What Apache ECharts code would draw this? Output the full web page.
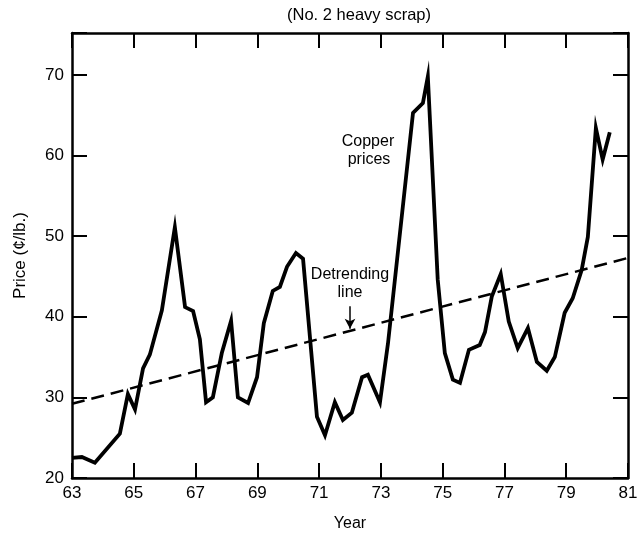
<!DOCTYPE html>
<html>
<head>
<meta charset="utf-8">
<script src="https://cdn.jsdelivr.net/npm/echarts@6/dist/echarts.min.js"></script>
<style>html,body{margin:0;padding:0;background:#fff}#c{width:641px;height:537px}</style>
</head>
<body>
<div id="c"></div>
<script>
// Copper prices (No. 2 heavy scrap), cents per lb
var years = [63.00, 63.32, 63.74, 64.55, 64.81, 65.04, 65.30, 65.52, 65.91, 66.33,
             66.66, 66.92, 67.14, 67.34, 67.56, 67.85, 68.15, 68.37, 68.70, 68.99,
             69.21, 69.50, 69.73, 69.96, 70.25, 70.48, 70.93, 71.19, 71.51, 71.77,
             72.06, 72.39, 72.58, 72.97, 73.23, 74.04, 74.36, 74.52, 74.84, 75.07,
             75.33, 75.56, 75.85, 76.20, 76.37, 76.59, 76.88, 77.14, 77.43, 77.76,
             78.05, 78.37, 78.63, 78.95, 79.21, 79.50, 79.70, 79.96, 80.18, 80.41];
var prices = [22.5, 22.6, 21.9, 25.5, 30.4, 28.5, 33.6, 35.3, 40.8, 51.1,
              41.2, 40.7, 37.2, 29.4, 30.0, 35.5, 39.5, 30.0, 29.3, 32.5,
              39.2, 43.2, 43.7, 46.2, 47.9, 47.2, 27.6, 25.3, 29.4, 27.2,
              28.1, 32.5, 32.8, 29.4, 36.7, 65.3, 66.5, 69.8, 44.6, 35.5,
              32.2, 31.8, 35.9, 36.5, 38.1, 42.5, 45.3, 39.4, 36.1, 38.6,
              34.4, 33.3, 35.0, 40.5, 42.3, 45.8, 49.9, 63.4, 59.5, 62.9];
// Detrending line end points
var trendYears = [63, 81];
var trendValues = [29.2, 47.3];
// Axis ranges
var xMin = 63, xMax = 81, xStep = 2;
var yMin = 20, yMax = 75.2, yStep = 10;

var copperData = years.map(function (y, i) { return [y, prices[i]]; });
var trendData = trendYears.map(function (y, i) { return [y, trendValues[i]]; });
var arrowYear = 72.0;
var arrowTop = 41.3;
var arrowBottom = 38.5;

var FONT = 'Liberation Sans, Arial, Helvetica, sans-serif';
var axisLine = { show: true, lineStyle: { color: '#000', width: 2.5 } };
var tick = { show: true, inside: true, length: 15, lineStyle: { color: '#000', width: 2 } };

var chart = echarts.init(document.getElementById('c'), null, { renderer: 'canvas' });
chart.setOption({
  animation: false,
  backgroundColor: '#fff',
  grid: { left: 72, right: 13, top: 33, bottom: 59, containLabel: false },
  xAxis: [{
    type: 'value', min: xMin, max: xMax, interval: xStep, position: 'bottom',
    name: 'Year', nameLocation: 'middle', nameGap: 38,
    nameTextStyle: { fontFamily: FONT, fontSize: 16, color: '#000' },
    axisLine: axisLine, axisTick: tick, splitLine: { show: false },
    axisLabel: { color: '#000', fontFamily: FONT, fontSize: 17, margin: 7 }
  }, {
    type: 'value', min: xMin, max: xMax, interval: xStep, position: 'top',
    axisLine: axisLine, axisTick: tick, splitLine: { show: false },
    axisLabel: { show: false }
  }],
  yAxis: [{
    type: 'value', min: yMin, max: yMax, interval: yStep, position: 'left',
    name: 'Price (¢/lb.)', nameLocation: 'middle', nameGap: 43, nameRotate: 90,
    nameTextStyle: { fontFamily: FONT, fontSize: 17, color: '#000' },
    axisLine: axisLine, axisTick: tick, splitLine: { show: false },
    axisLabel: { color: '#000', fontFamily: FONT, fontSize: 17, margin: 8,
      formatter: function (v) { return (v % 10 === 0) ? String(v) : ''; } }
  }, {
    type: 'value', min: yMin, max: yMax, interval: yStep, position: 'right',
    axisLine: axisLine, axisTick: tick, splitLine: { show: false },
    axisLabel: { show: false }
  }],
  graphic: [
    { type: 'text', x: 359, y: 15, style: { text: '(No. 2 heavy scrap)', font: '16.5px ' + FONT, fill: '#000', align: 'center', verticalAlign: 'middle' } },
    { type: 'text', x: 368, y: 142, style: { text: 'Copper', font: '16px ' + FONT, fill: '#000', align: 'center', verticalAlign: 'middle' } },
    { type: 'text', x: 369, y: 160, style: { text: 'prices', font: '16px ' + FONT, fill: '#000', align: 'center', verticalAlign: 'middle' } },
    { type: 'text', x: 350, y: 275, style: { text: 'Detrending', font: '16px ' + FONT, fill: '#000', align: 'center', verticalAlign: 'middle' } },
    { type: 'text', x: 350, y: 293, style: { text: 'line', font: '16px ' + FONT, fill: '#000', align: 'center', verticalAlign: 'middle' } }
  ],
  series: [{
    name: 'Copper prices', type: 'line', data: copperData, showSymbol: false, symbol: 'none',
    lineStyle: { color: '#000', width: 3.8, join: 'miter' }, z: 3
  }, {
    name: 'Detrending line', type: 'line', data: trendData, showSymbol: false, symbol: 'none',
    lineStyle: { color: '#000', width: 2.5, type: [13, 7] }, z: 2,
    markLine: {
      silent: true, symbol: ['none', 'arrow'], symbolSize: [8, 10], label: { show: false },
      lineStyle: { color: '#000', width: 1.5, type: 'solid' },
      data: [[{ coord: [arrowYear, arrowTop] }, { coord: [arrowYear, arrowBottom] }]]
    }
  }]
});
</script>
</body>
</html>
